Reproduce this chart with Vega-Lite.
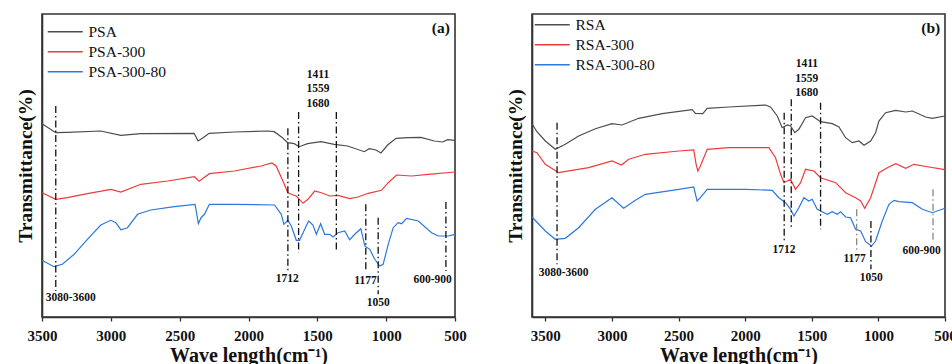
{
  "$schema": "https://vega.github.io/schema/vega-lite/v6.json",
  "padding": {"left": 14, "top": 13, "right": 0, "bottom": 0},
  "spacing": 36,
  "config": {
    "font": "Liberation Serif",
    "view": {"stroke": "#333", "strokeWidth": 1.6},
    "axis": {
      "grid": false,
      "labelFont": "Liberation Serif",
      "titleFont": "Liberation Serif",
      "labelFontWeight": "bold",
      "titleFontWeight": "bold",
      "labelColor": "#111",
      "titleColor": "#111",
      "domainColor": "#333",
      "domainWidth": 1.6,
      "tickColor": "#333",
      "tickWidth": 1.3
    },
    "legend": {
      "title": null,
      "padding": 0,
      "labelFont": "Liberation Serif",
      "labelFontSize": 15.5,
      "labelColor": "#111",
      "symbolType": "M-1,0H6",
      "symbolSize": 100,
      "symbolStrokeWidth": 1.6,
      "labelOffset": 28,
      "rowPadding": 3
    }
  },
  "datasets": {
    "psa": [
      {"sample": "PSA", "wn": 3500, "T": 193.3}, {"sample": "PSA", "wn": 3400, "T": 184.3}, {"sample": "PSA", "wn": 3316, "T": 184.7},
      {"sample": "PSA", "wn": 3073, "T": 186}, {"sample": "PSA", "wn": 2927, "T": 181.7}, {"sample": "PSA", "wn": 2782, "T": 183.3},
      {"sample": "PSA", "wn": 2395, "T": 183.7}, {"sample": "PSA", "wn": 2366, "T": 176}, {"sample": "PSA", "wn": 2335, "T": 178.7},
      {"sample": "PSA", "wn": 2286, "T": 183.7}, {"sample": "PSA", "wn": 2104, "T": 185}, {"sample": "PSA", "wn": 1862, "T": 186},
      {"sample": "PSA", "wn": 1813, "T": 185.3}, {"sample": "PSA", "wn": 1753, "T": 179.3}, {"sample": "PSA", "wn": 1716, "T": 174.3},
      {"sample": "PSA", "wn": 1668, "T": 173.3}, {"sample": "PSA", "wn": 1632, "T": 170.3}, {"sample": "PSA", "wn": 1571, "T": 173.3},
      {"sample": "PSA", "wn": 1474, "T": 175.3}, {"sample": "PSA", "wn": 1377, "T": 172.7}, {"sample": "PSA", "wn": 1280, "T": 171},
      {"sample": "PSA", "wn": 1159, "T": 165.3}, {"sample": "PSA", "wn": 1123, "T": 168.3}, {"sample": "PSA", "wn": 1074, "T": 167},
      {"sample": "PSA", "wn": 1038, "T": 164}, {"sample": "PSA", "wn": 989, "T": 172}, {"sample": "PSA", "wn": 928, "T": 178.7},
      {"sample": "PSA", "wn": 844, "T": 179.3}, {"sample": "PSA", "wn": 747, "T": 179.7}, {"sample": "PSA", "wn": 650, "T": 176},
      {"sample": "PSA", "wn": 590, "T": 175}, {"sample": "PSA", "wn": 553, "T": 177.3}, {"sample": "PSA", "wn": 500, "T": 176.7},

      {"sample": "PSA-300", "wn": 3500, "T": 124.3}, {"sample": "PSA-300", "wn": 3400, "T": 117.7}, {"sample": "PSA-300", "wn": 3316, "T": 119.3},
      {"sample": "PSA-300", "wn": 3170, "T": 123.3}, {"sample": "PSA-300", "wn": 3000, "T": 127.7}, {"sample": "PSA-300", "wn": 2927, "T": 125},
      {"sample": "PSA-300", "wn": 2782, "T": 132.7}, {"sample": "PSA-300", "wn": 2587, "T": 136}, {"sample": "PSA-300", "wn": 2393, "T": 140.3},
      {"sample": "PSA-300", "wn": 2359, "T": 135.7}, {"sample": "PSA-300", "wn": 2284, "T": 143.3}, {"sample": "PSA-300", "wn": 2102, "T": 146},
      {"sample": "PSA-300", "wn": 1908, "T": 151}, {"sample": "PSA-300", "wn": 1830, "T": 154}, {"sample": "PSA-300", "wn": 1799, "T": 151},
      {"sample": "PSA-300", "wn": 1750, "T": 136}, {"sample": "PSA-300", "wn": 1714, "T": 124.3}, {"sample": "PSA-300", "wn": 1689, "T": 122.7},
      {"sample": "PSA-300", "wn": 1653, "T": 121}, {"sample": "PSA-300", "wn": 1604, "T": 113.7}, {"sample": "PSA-300", "wn": 1568, "T": 117.7},
      {"sample": "PSA-300", "wn": 1519, "T": 126}, {"sample": "PSA-300", "wn": 1471, "T": 124.3}, {"sample": "PSA-300", "wn": 1410, "T": 121},
      {"sample": "PSA-300", "wn": 1350, "T": 121.7}, {"sample": "PSA-300", "wn": 1265, "T": 118.3}, {"sample": "PSA-300", "wn": 1204, "T": 120},
      {"sample": "PSA-300", "wn": 1131, "T": 123.7}, {"sample": "PSA-300", "wn": 1034, "T": 126.7}, {"sample": "PSA-300", "wn": 985, "T": 134.3},
      {"sample": "PSA-300", "wn": 925, "T": 142}, {"sample": "PSA-300", "wn": 816, "T": 141}, {"sample": "PSA-300", "wn": 694, "T": 142.7},
      {"sample": "PSA-300", "wn": 500, "T": 145},

      {"sample": "PSA-300-80", "wn": 3500, "T": 56.7}, {"sample": "PSA-300-80", "wn": 3413, "T": 50.3}, {"sample": "PSA-300-80", "wn": 3352, "T": 52.7},
      {"sample": "PSA-300-80", "wn": 3267, "T": 62.7}, {"sample": "PSA-300-80", "wn": 3170, "T": 77.7}, {"sample": "PSA-300-80", "wn": 3073, "T": 92},
      {"sample": "PSA-300-80", "wn": 3000, "T": 96.7}, {"sample": "PSA-300-80", "wn": 2964, "T": 94.3}, {"sample": "PSA-300-80", "wn": 2927, "T": 87.3},
      {"sample": "PSA-300-80", "wn": 2879, "T": 89.3}, {"sample": "PSA-300-80", "wn": 2806, "T": 102.7}, {"sample": "PSA-300-80", "wn": 2709, "T": 107},
      {"sample": "PSA-300-80", "wn": 2539, "T": 110.3}, {"sample": "PSA-300-80", "wn": 2388, "T": 112.7}, {"sample": "PSA-300-80", "wn": 2364, "T": 93.3},
      {"sample": "PSA-300-80", "wn": 2345, "T": 99.3}, {"sample": "PSA-300-80", "wn": 2320, "T": 102.7}, {"sample": "PSA-300-80", "wn": 2284, "T": 112.7},
      {"sample": "PSA-300-80", "wn": 2102, "T": 112.7}, {"sample": "PSA-300-80", "wn": 1811, "T": 112}, {"sample": "PSA-300-80", "wn": 1762, "T": 102.7},
      {"sample": "PSA-300-80", "wn": 1743, "T": 92.7}, {"sample": "PSA-300-80", "wn": 1714, "T": 96.7}, {"sample": "PSA-300-80", "wn": 1689, "T": 91},
      {"sample": "PSA-300-80", "wn": 1653, "T": 76.7}, {"sample": "PSA-300-80", "wn": 1629, "T": 76.7}, {"sample": "PSA-300-80", "wn": 1592, "T": 87.7},
      {"sample": "PSA-300-80", "wn": 1563, "T": 96}, {"sample": "PSA-300-80", "wn": 1532, "T": 92}, {"sample": "PSA-300-80", "wn": 1507, "T": 82.7},
      {"sample": "PSA-300-80", "wn": 1476, "T": 93.3}, {"sample": "PSA-300-80", "wn": 1447, "T": 82.7}, {"sample": "PSA-300-80", "wn": 1410, "T": 82.7},
      {"sample": "PSA-300-80", "wn": 1386, "T": 80}, {"sample": "PSA-300-80", "wn": 1350, "T": 84.3}, {"sample": "PSA-300-80", "wn": 1301, "T": 86},
      {"sample": "PSA-300-80", "wn": 1265, "T": 77.3}, {"sample": "PSA-300-80", "wn": 1228, "T": 82.7}, {"sample": "PSA-300-80", "wn": 1184, "T": 88.3},
      {"sample": "PSA-300-80", "wn": 1155, "T": 71}, {"sample": "PSA-300-80", "wn": 1119, "T": 67.7}, {"sample": "PSA-300-80", "wn": 1083, "T": 57.7},
      {"sample": "PSA-300-80", "wn": 1046, "T": 51}, {"sample": "PSA-300-80", "wn": 1022, "T": 52.7}, {"sample": "PSA-300-80", "wn": 985, "T": 72.7},
      {"sample": "PSA-300-80", "wn": 949, "T": 89.3}, {"sample": "PSA-300-80", "wn": 913, "T": 94.3}, {"sample": "PSA-300-80", "wn": 888, "T": 93.3},
      {"sample": "PSA-300-80", "wn": 852, "T": 98.7}, {"sample": "PSA-300-80", "wn": 767, "T": 96}, {"sample": "PSA-300-80", "wn": 670, "T": 84.3},
      {"sample": "PSA-300-80", "wn": 621, "T": 81}, {"sample": "PSA-300-80", "wn": 549, "T": 81}, {"sample": "PSA-300-80", "wn": 500, "T": 82.7}
    ],
    "rsa": [
      {"sample": "RSA", "wn": 3600, "T": 193.3}, {"sample": "RSA", "wn": 3563, "T": 185.3}, {"sample": "RSA", "wn": 3500, "T": 176},
      {"sample": "RSA", "wn": 3425, "T": 167.7}, {"sample": "RSA", "wn": 3350, "T": 172.7}, {"sample": "RSA", "wn": 3250, "T": 181},
      {"sample": "RSA", "wn": 3124, "T": 188.3}, {"sample": "RSA", "wn": 3000, "T": 193.3}, {"sample": "RSA", "wn": 2924, "T": 192},
      {"sample": "RSA", "wn": 2799, "T": 198.7}, {"sample": "RSA", "wn": 2623, "T": 203.3}, {"sample": "RSA", "wn": 2398, "T": 207.3},
      {"sample": "RSA", "wn": 2373, "T": 203.7}, {"sample": "RSA", "wn": 2318, "T": 203.3}, {"sample": "RSA", "wn": 2285, "T": 208.7},
      {"sample": "RSA", "wn": 2123, "T": 210}, {"sample": "RSA", "wn": 1847, "T": 212}, {"sample": "RSA", "wn": 1810, "T": 210},
      {"sample": "RSA", "wn": 1759, "T": 201}, {"sample": "RSA", "wn": 1722, "T": 189.3}, {"sample": "RSA", "wn": 1684, "T": 192},
      {"sample": "RSA", "wn": 1659, "T": 191}, {"sample": "RSA", "wn": 1627, "T": 184.3}, {"sample": "RSA", "wn": 1597, "T": 187.7},
      {"sample": "RSA", "wn": 1547, "T": 199.3}, {"sample": "RSA", "wn": 1497, "T": 201}, {"sample": "RSA", "wn": 1434, "T": 195.3},
      {"sample": "RSA", "wn": 1346, "T": 193.3}, {"sample": "RSA", "wn": 1296, "T": 190}, {"sample": "RSA", "wn": 1246, "T": 179.3},
      {"sample": "RSA", "wn": 1196, "T": 174.3}, {"sample": "RSA", "wn": 1146, "T": 176}, {"sample": "RSA", "wn": 1108, "T": 171.7},
      {"sample": "RSA", "wn": 1058, "T": 176}, {"sample": "RSA", "wn": 1021, "T": 184.3}, {"sample": "RSA", "wn": 996, "T": 196},
      {"sample": "RSA", "wn": 946, "T": 204.3}, {"sample": "RSA", "wn": 870, "T": 206.7}, {"sample": "RSA", "wn": 795, "T": 205},
      {"sample": "RSA", "wn": 745, "T": 206}, {"sample": "RSA", "wn": 645, "T": 200}, {"sample": "RSA", "wn": 595, "T": 198.7},
      {"sample": "RSA", "wn": 500, "T": 201},

      {"sample": "RSA-300", "wn": 3600, "T": 166}, {"sample": "RSA-300", "wn": 3563, "T": 164.3}, {"sample": "RSA-300", "wn": 3500, "T": 152.7},
      {"sample": "RSA-300", "wn": 3400, "T": 144.3}, {"sample": "RSA-300", "wn": 3300, "T": 146.7}, {"sample": "RSA-300", "wn": 3174, "T": 149.3},
      {"sample": "RSA-300", "wn": 3000, "T": 156}, {"sample": "RSA-300", "wn": 2929, "T": 152}, {"sample": "RSA-300", "wn": 2874, "T": 157.7},
      {"sample": "RSA-300", "wn": 2749, "T": 162.7}, {"sample": "RSA-300", "wn": 2498, "T": 166}, {"sample": "RSA-300", "wn": 2386, "T": 167},
      {"sample": "RSA-300", "wn": 2368, "T": 152.7}, {"sample": "RSA-300", "wn": 2355, "T": 146}, {"sample": "RSA-300", "wn": 2336, "T": 151},
      {"sample": "RSA-300", "wn": 2285, "T": 167.7}, {"sample": "RSA-300", "wn": 2123, "T": 169.3}, {"sample": "RSA-300", "wn": 1822, "T": 169.3},
      {"sample": "RSA-300", "wn": 1772, "T": 159.3}, {"sample": "RSA-300", "wn": 1734, "T": 142.7}, {"sample": "RSA-300", "wn": 1709, "T": 134.3},
      {"sample": "RSA-300", "wn": 1659, "T": 137.7}, {"sample": "RSA-300", "wn": 1622, "T": 127.7}, {"sample": "RSA-300", "wn": 1584, "T": 134.3},
      {"sample": "RSA-300", "wn": 1547, "T": 147.7}, {"sample": "RSA-300", "wn": 1484, "T": 146}, {"sample": "RSA-300", "wn": 1434, "T": 139.3},
      {"sample": "RSA-300", "wn": 1321, "T": 134.3}, {"sample": "RSA-300", "wn": 1246, "T": 124.3}, {"sample": "RSA-300", "wn": 1171, "T": 119.3},
      {"sample": "RSA-300", "wn": 1133, "T": 116}, {"sample": "RSA-300", "wn": 1103, "T": 108.7}, {"sample": "RSA-300", "wn": 1058, "T": 119.3},
      {"sample": "RSA-300", "wn": 996, "T": 144.3}, {"sample": "RSA-300", "wn": 933, "T": 149.3}, {"sample": "RSA-300", "wn": 870, "T": 153.3},
      {"sample": "RSA-300", "wn": 795, "T": 148.7}, {"sample": "RSA-300", "wn": 733, "T": 152.7}, {"sample": "RSA-300", "wn": 620, "T": 150},
      {"sample": "RSA-300", "wn": 500, "T": 147.3},

      {"sample": "RSA-300-80", "wn": 3600, "T": 100}, {"sample": "RSA-300-80", "wn": 3500, "T": 86}, {"sample": "RSA-300-80", "wn": 3425, "T": 77.7},
      {"sample": "RSA-300-80", "wn": 3350, "T": 78.7}, {"sample": "RSA-300-80", "wn": 3250, "T": 89.3}, {"sample": "RSA-300-80", "wn": 3124, "T": 107.7},
      {"sample": "RSA-300-80", "wn": 3000, "T": 119.3}, {"sample": "RSA-300-80", "wn": 2912, "T": 108.7}, {"sample": "RSA-300-80", "wn": 2824, "T": 116.7},
      {"sample": "RSA-300-80", "wn": 2749, "T": 122.7}, {"sample": "RSA-300-80", "wn": 2498, "T": 127.7}, {"sample": "RSA-300-80", "wn": 2386, "T": 130},
      {"sample": "RSA-300-80", "wn": 2361, "T": 116}, {"sample": "RSA-300-80", "wn": 2336, "T": 119.3}, {"sample": "RSA-300-80", "wn": 2285, "T": 127.7},
      {"sample": "RSA-300-80", "wn": 1997, "T": 127.7}, {"sample": "RSA-300-80", "wn": 1797, "T": 126.7}, {"sample": "RSA-300-80", "wn": 1747, "T": 119.3},
      {"sample": "RSA-300-80", "wn": 1697, "T": 114.3}, {"sample": "RSA-300-80", "wn": 1659, "T": 107.7}, {"sample": "RSA-300-80", "wn": 1634, "T": 101},
      {"sample": "RSA-300-80", "wn": 1597, "T": 109.3}, {"sample": "RSA-300-80", "wn": 1559, "T": 119.3}, {"sample": "RSA-300-80", "wn": 1522, "T": 116},
      {"sample": "RSA-300-80", "wn": 1497, "T": 117.7}, {"sample": "RSA-300-80", "wn": 1459, "T": 107.7}, {"sample": "RSA-300-80", "wn": 1422, "T": 105.3},
      {"sample": "RSA-300-80", "wn": 1384, "T": 102.7}, {"sample": "RSA-300-80", "wn": 1346, "T": 105.3}, {"sample": "RSA-300-80", "wn": 1309, "T": 102.7},
      {"sample": "RSA-300-80", "wn": 1284, "T": 105.3}, {"sample": "RSA-300-80", "wn": 1246, "T": 100}, {"sample": "RSA-300-80", "wn": 1209, "T": 99.3},
      {"sample": "RSA-300-80", "wn": 1171, "T": 87.7}, {"sample": "RSA-300-80", "wn": 1133, "T": 86}, {"sample": "RSA-300-80", "wn": 1096, "T": 75.3},
      {"sample": "RSA-300-80", "wn": 1051, "T": 71}, {"sample": "RSA-300-80", "wn": 1021, "T": 76}, {"sample": "RSA-300-80", "wn": 971, "T": 96},
      {"sample": "RSA-300-80", "wn": 921, "T": 112.7}, {"sample": "RSA-300-80", "wn": 883, "T": 116.7}, {"sample": "RSA-300-80", "wn": 846, "T": 115.3},
      {"sample": "RSA-300-80", "wn": 745, "T": 114.3}, {"sample": "RSA-300-80", "wn": 670, "T": 107.7}, {"sample": "RSA-300-80", "wn": 595, "T": 104.3},
      {"sample": "RSA-300-80", "wn": 500, "T": 108.7}
    ],
    "peaksA": [
      {"peak": "3080-3600", "wn": 3400, "top": 211, "bottom": 26},
      {"peak": "1712", "wn": 1714, "top": 188.7, "bottom": 46.7},
      {"peak": "1680", "wn": 1636, "top": 205, "bottom": 64.3},
      {"peak": "1411", "wn": 1362, "top": 205, "bottom": 65.3},
      {"peak": "1177", "wn": 1148, "top": 112.7, "bottom": 46},
      {"peak": "1050", "wn": 1058, "top": 99.3, "bottom": 22.7},
      {"peak": "600-900", "wn": 566, "top": 115, "bottom": 46}
    ],
    "peaksB": [
      {"peak": "3080-3600", "wn": 3412, "top": 194.3, "bottom": 52.7},
      {"peak": "1712", "wn": 1707, "top": 204.3, "bottom": 74.3},
      {"peak": "1680", "wn": 1654, "top": 217.7, "bottom": 87.7},
      {"peak": "1411", "wn": 1434, "top": 214.3, "bottom": 87.7},
      {"peak": "1177", "wn": 1163, "top": 107.7, "bottom": 66},
      {"peak": "1050", "wn": 1056, "top": 96, "bottom": 47.7},
      {"peak": "600-900", "wn": 590, "top": 127.7, "bottom": 76}
    ],
    "notesA": [
      {"text": "3080-3600", "wn": 3291, "T": 19.3},
      {"text": "1712", "wn": 1718, "T": 37.7},
      {"text": "1411", "wn": 1495, "T": 242},
      {"text": "1559", "wn": 1495, "T": 227.7},
      {"text": "1680", "wn": 1495, "T": 213.3},
      {"text": "1177", "wn": 1150, "T": 36},
      {"text": "1050", "wn": 1058, "T": 13.7},
      {"text": "600-900", "wn": 663, "T": 36.7}
    ],
    "notesB": [
      {"text": "3080-3600", "wn": 3362, "T": 44.3},
      {"text": "1712", "wn": 1709, "T": 66.7},
      {"text": "1411", "wn": 1537, "T": 252.7},
      {"text": "1559", "wn": 1537, "T": 238.3},
      {"text": "1680", "wn": 1537, "T": 224},
      {"text": "1177", "wn": 1178, "T": 57.7},
      {"text": "1050", "wn": 1053, "T": 38.7},
      {"text": "600-900", "wn": 675, "T": 66}
    ]
  },
  "hconcat": [
    {
      "width": 413,
      "height": 303,
      "layer": [
        {
          "data": {"name": "psa"},
          "mark": {"type": "line", "strokeWidth": 1.2},
          "encoding": {
            "x": {
              "field": "wn", "type": "quantitative",
              "scale": {"domain": [3500, 500], "nice": false, "zero": false},
              "axis": {
                "title": "Wave length(cm⁻¹)", "titleFontSize": 20, "titlePadding": 2,
                "values": [3500, 3250, 3000, 2750, 2500, 2250, 2000, 1750, 1500, 1250, 1000, 750, 500],
                "format": "d", "labelFontSize": 15, "labelPadding": 7,
                "labelFlush": false, "labelOverlap": false,
                "labelExpr": "datum.value % 500 === 0 ? datum.label : ''",
                "tickSize": {"condition": {"test": "datum.value % 500 === 0", "value": 4}, "value": 2.5}
              }
            },
            "y": {
              "field": "T", "type": "quantitative",
              "scale": {"domain": [0, 303], "nice": false},
              "axis": {"title": "Transmittance(%)", "titleFontSize": 19.5, "titlePadding": 7, "labels": false, "ticks": false}
            },
            "color": {
              "field": "sample", "type": "nominal",
              "scale": {"domain": ["PSA", "PSA-300", "PSA-300-80"], "range": ["#4d4d4d", "#f03a3a", "#2a78e0"]},
              "legend": {"orient": "none", "legendX": 3, "legendY": 10}
            }
          }
        },
        {
          "data": {"name": "peaksA"},
          "mark": {"type": "rule", "color": "#111", "strokeWidth": 1.3, "strokeDash": [7, 3, 1.5, 3]},
          "encoding": {
            "x": {"field": "wn", "type": "quantitative"},
            "y": {"field": "top", "type": "quantitative"},
            "y2": {"field": "bottom"}
          }
        },
        {
          "data": {"name": "notesA"},
          "mark": {"type": "text", "font": "Liberation Serif", "fontWeight": "bold", "fontSize": 11.5, "color": "#111"},
          "encoding": {
            "x": {"field": "wn", "type": "quantitative"},
            "y": {"field": "T", "type": "quantitative"},
            "text": {"field": "text"}
          }
        },
        {
          "data": {"values": [{"text": "(a)", "wn": 603, "T": 289}]},
          "mark": {"type": "text", "font": "Liberation Serif", "fontWeight": "bold", "fontSize": 15.5, "color": "#111"},
          "encoding": {
            "x": {"field": "wn", "type": "quantitative"},
            "y": {"field": "T", "type": "quantitative"},
            "text": {"field": "text"}
          }
        }
      ]
    },
    {
      "width": 413,
      "height": 303,
      "layer": [
        {
          "data": {"name": "rsa"},
          "mark": {"type": "line", "strokeWidth": 1.2},
          "encoding": {
            "x": {
              "field": "wn", "type": "quantitative",
              "scale": {"domain": [3600, 500], "nice": false, "zero": false},
              "axis": {
                "title": "Wave length(cm⁻¹)", "titleFontSize": 20, "titlePadding": 2,
                "values": [3500, 3250, 3000, 2750, 2500, 2250, 2000, 1750, 1500, 1250, 1000, 750, 500],
                "format": "d", "labelFontSize": 15, "labelPadding": 7,
                "labelFlush": false, "labelOverlap": false,
                "labelExpr": "datum.value % 500 === 0 ? datum.label : ''",
                "tickSize": {"condition": {"test": "datum.value % 500 === 0", "value": 4}, "value": 2.5}
              }
            },
            "y": {
              "field": "T", "type": "quantitative",
              "scale": {"domain": [0, 303], "nice": false},
              "axis": {"title": "Transmittance(%)", "titleFontSize": 19.5, "titlePadding": 7, "labels": false, "ticks": false}
            },
            "color": {
              "field": "sample", "type": "nominal",
              "scale": {"domain": ["RSA", "RSA-300", "RSA-300-80"], "range": ["#4d4d4d", "#f03a3a", "#2a78e0"]},
              "legend": {"orient": "none", "legendX": 0, "legendY": 3}
            }
          }
        },
        {
          "data": {"name": "peaksB"},
          "transform": [{"filter": "datum.peak !== '1177' && datum.peak !== '600-900'"}],
          "mark": {"type": "rule", "color": "#111", "strokeWidth": 1.3, "strokeDash": [7, 3, 1.5, 3]},
          "encoding": {
            "x": {"field": "wn", "type": "quantitative"},
            "y": {"field": "top", "type": "quantitative"},
            "y2": {"field": "bottom"}
          }
        },
        {
          "data": {"name": "peaksB"},
          "transform": [{"filter": "datum.peak === '1177' || datum.peak === '600-900'"}],
          "mark": {"type": "rule", "color": "#888", "strokeWidth": 1.3, "strokeDash": [7, 3, 1.5, 3]},
          "encoding": {
            "x": {"field": "wn", "type": "quantitative"},
            "y": {"field": "top", "type": "quantitative"},
            "y2": {"field": "bottom"}
          }
        },
        {
          "data": {"name": "notesB"},
          "mark": {"type": "text", "font": "Liberation Serif", "fontWeight": "bold", "fontSize": 11.5, "color": "#111"},
          "encoding": {
            "x": {"field": "wn", "type": "quantitative"},
            "y": {"field": "T", "type": "quantitative"},
            "text": {"field": "text"}
          }
        },
        {
          "data": {"values": [{"text": "(b)", "wn": 607, "T": 289}]},
          "mark": {"type": "text", "font": "Liberation Serif", "fontWeight": "bold", "fontSize": 15.5, "color": "#111"},
          "encoding": {
            "x": {"field": "wn", "type": "quantitative"},
            "y": {"field": "T", "type": "quantitative"},
            "text": {"field": "text"}
          }
        }
      ]
    }
  ],
  "resolve": {"scale": {"color": "independent"}}
}
